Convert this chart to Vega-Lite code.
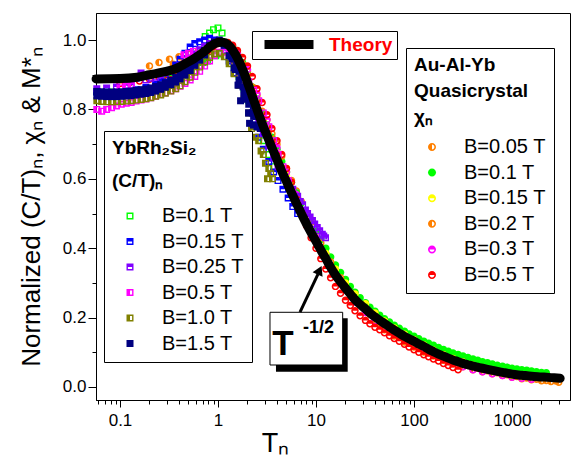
{
"$schema": "https://vega.github.io/schema/vega-lite/v6.json",
"width": 474, "height": 387,
"autosize": {"type": "none"},
"padding": {"left": 96, "top": 13, "right": 1, "bottom": 64},
"background": "white",
"config": {
  "font": "Liberation Sans",
  "view": {"stroke": "black", "strokeWidth": 1},
  "axis": {"grid": false, "domainColor": "black", "tickColor": "black", "labelColor": "black", "titleColor": "black", "labelFont": "Liberation Sans", "titleFont": "Liberation Sans", "labelFontSize": 17, "titleFontWeight": "normal"},
  "legend": {"labelFont": "Liberation Sans", "titleFont": "Liberation Sans"}
},
"datasets": {
"qc": [
{"s":"B=0.05 T","T":0.2,"v":0.925},{"s":"B=0.05 T","T":0.25,"v":0.935},{"s":"B=0.05 T","T":0.32,"v":0.945},{"s":"B=0.05 T","T":0.4,"v":0.952},{"s":"B=0.05 T","T":0.5,"v":0.96},{"s":"B=0.05 T","T":0.63,"v":0.97},{"s":"B=0.05 T","T":0.8,"v":0.983},{"s":"B=0.05 T","T":1.0,"v":0.993},{"s":"B=0.05 T","T":1.26,"v":0.99},{"s":"B=0.05 T","T":1.58,"v":0.96},{"s":"B=0.05 T","T":2.0,"v":0.91},{"s":"B=0.05 T","T":2.5,"v":0.84},{"s":"B=0.05 T","T":3.16,"v":0.77},{"s":"B=0.05 T","T":4.0,"v":0.7},{"s":"B=0.05 T","T":5.0,"v":0.63},{"s":"B=0.05 T","T":6.3,"v":0.565},{"s":"B=0.05 T","T":8.0,"v":0.5},{"s":"B=0.05 T","T":10,"v":0.445},{"s":"B=0.05 T","T":12.6,"v":0.385},{"s":"B=0.05 T","T":15.8,"v":0.335},{"s":"B=0.05 T","T":20,"v":0.29},{"s":"B=0.05 T","T":25,"v":0.25},{"s":"B=0.05 T","T":32,"v":0.215},{"s":"B=0.05 T","T":40,"v":0.187},{"s":"B=0.05 T","T":50,"v":0.165},{"s":"B=0.05 T","T":63,"v":0.147},{"s":"B=0.05 T","T":80,"v":0.13},{"s":"B=0.05 T","T":100,"v":0.115},{"s":"B=0.05 T","T":126,"v":0.101},{"s":"B=0.05 T","T":158,"v":0.089},{"s":"B=0.05 T","T":200,"v":0.077},{"s":"B=0.05 T","T":250,"v":0.067},{"s":"B=0.05 T","T":316,"v":0.058},{"s":"B=0.05 T","T":400,"v":0.05},{"s":"B=0.05 T","T":500,"v":0.044},{"s":"B=0.05 T","T":630,"v":0.038},{"s":"B=0.05 T","T":800,"v":0.033},{"s":"B=0.05 T","T":1000,"v":0.028},{"s":"B=0.05 T","T":1260,"v":0.024},{"s":"B=0.05 T","T":1580,"v":0.021},{"s":"B=0.05 T","T":2000,"v":0.018},{"s":"B=0.05 T","T":2500,"v":0.016},{"s":"B=0.05 T","T":3000,"v":0.014},
{"s":"B=0.1 T","T":0.28,"v":0.9},{"s":"B=0.1 T","T":0.35,"v":0.91},{"s":"B=0.1 T","T":0.45,"v":0.925},{"s":"B=0.1 T","T":0.56,"v":0.94},{"s":"B=0.1 T","T":0.71,"v":0.96},{"s":"B=0.1 T","T":0.89,"v":0.985},{"s":"B=0.1 T","T":1.12,"v":0.995},{"s":"B=0.1 T","T":1.41,"v":0.98},{"s":"B=0.1 T","T":1.78,"v":0.935},{"s":"B=0.1 T","T":2.24,"v":0.865},{"s":"B=0.1 T","T":2.82,"v":0.79},{"s":"B=0.1 T","T":3.55,"v":0.72},{"s":"B=0.1 T","T":4.47,"v":0.65},{"s":"B=0.1 T","T":5.62,"v":0.59},{"s":"B=0.1 T","T":7.08,"v":0.53},{"s":"B=0.1 T","T":8.91,"v":0.475},{"s":"B=0.1 T","T":11.2,"v":0.425},{"s":"B=0.1 T","T":14.1,"v":0.375},{"s":"B=0.1 T","T":17.8,"v":0.33},{"s":"B=0.1 T","T":22.4,"v":0.29},{"s":"B=0.1 T","T":28.2,"v":0.257},{"s":"B=0.1 T","T":35.5,"v":0.23},{"s":"B=0.1 T","T":44.7,"v":0.207},{"s":"B=0.1 T","T":56.2,"v":0.187},{"s":"B=0.1 T","T":70.8,"v":0.169},{"s":"B=0.1 T","T":89.1,"v":0.153},{"s":"B=0.1 T","T":112,"v":0.139},{"s":"B=0.1 T","T":141,"v":0.126},{"s":"B=0.1 T","T":178,"v":0.114},{"s":"B=0.1 T","T":224,"v":0.103},{"s":"B=0.1 T","T":282,"v":0.094},{"s":"B=0.1 T","T":355,"v":0.085},{"s":"B=0.1 T","T":447,"v":0.077},{"s":"B=0.1 T","T":562,"v":0.07},{"s":"B=0.1 T","T":708,"v":0.063},{"s":"B=0.1 T","T":891,"v":0.057},{"s":"B=0.1 T","T":1122,"v":0.052},{"s":"B=0.1 T","T":1413,"v":0.048},{"s":"B=0.1 T","T":1778,"v":0.044},{"s":"B=0.1 T","T":2239,"v":0.041},
{"s":"B=0.1 T","T":0.32,"v":0.905},{"s":"B=0.1 T","T":0.4,"v":0.918},{"s":"B=0.1 T","T":0.5,"v":0.932},{"s":"B=0.1 T","T":0.63,"v":0.95},{"s":"B=0.1 T","T":0.8,"v":0.972},{"s":"B=0.1 T","T":1.0,"v":0.992},{"s":"B=0.1 T","T":1.26,"v":0.99},{"s":"B=0.1 T","T":1.58,"v":0.96},{"s":"B=0.1 T","T":2.0,"v":0.9},{"s":"B=0.1 T","T":2.5,"v":0.83},{"s":"B=0.1 T","T":3.16,"v":0.755},{"s":"B=0.1 T","T":4.0,"v":0.685},{"s":"B=0.1 T","T":5.0,"v":0.62},{"s":"B=0.1 T","T":6.3,"v":0.56},{"s":"B=0.1 T","T":8.0,"v":0.5},{"s":"B=0.1 T","T":10,"v":0.45},{"s":"B=0.1 T","T":12.6,"v":0.4},{"s":"B=0.1 T","T":15.8,"v":0.352},{"s":"B=0.1 T","T":20,"v":0.31},{"s":"B=0.1 T","T":25,"v":0.273},{"s":"B=0.1 T","T":32,"v":0.243},{"s":"B=0.1 T","T":40,"v":0.218},{"s":"B=0.1 T","T":50,"v":0.197},{"s":"B=0.1 T","T":63,"v":0.178},{"s":"B=0.1 T","T":80,"v":0.161},{"s":"B=0.1 T","T":100,"v":0.146},{"s":"B=0.1 T","T":126,"v":0.132},{"s":"B=0.1 T","T":158,"v":0.12},{"s":"B=0.1 T","T":200,"v":0.108},{"s":"B=0.1 T","T":250,"v":0.098},{"s":"B=0.1 T","T":316,"v":0.089},{"s":"B=0.1 T","T":400,"v":0.081},{"s":"B=0.1 T","T":500,"v":0.073},{"s":"B=0.1 T","T":630,"v":0.066},{"s":"B=0.1 T","T":800,"v":0.06},{"s":"B=0.1 T","T":1000,"v":0.054},{"s":"B=0.1 T","T":1260,"v":0.05},{"s":"B=0.1 T","T":1580,"v":0.046},{"s":"B=0.1 T","T":2000,"v":0.042},
{"s":"B=0.15 T","T":0.5,"v":0.945},{"s":"B=0.15 T","T":0.63,"v":0.96},{"s":"B=0.15 T","T":0.8,"v":0.98},{"s":"B=0.15 T","T":1.0,"v":0.99},{"s":"B=0.15 T","T":1.26,"v":0.985},{"s":"B=0.15 T","T":1.58,"v":0.955},{"s":"B=0.15 T","T":2.0,"v":0.895},{"s":"B=0.15 T","T":2.5,"v":0.82},{"s":"B=0.15 T","T":3.16,"v":0.745},{"s":"B=0.15 T","T":4.0,"v":0.675},{"s":"B=0.15 T","T":5.0,"v":0.61},{"s":"B=0.15 T","T":6.3,"v":0.55},{"s":"B=0.15 T","T":8.0,"v":0.49},{"s":"B=0.15 T","T":10,"v":0.435},{"s":"B=0.15 T","T":12.6,"v":0.385},{"s":"B=0.15 T","T":15.8,"v":0.34},{"s":"B=0.15 T","T":20,"v":0.3},{"s":"B=0.15 T","T":25,"v":0.268},{"s":"B=0.15 T","T":32,"v":0.24},{"s":"B=0.15 T","T":40,"v":0.213},{"s":"B=0.15 T","T":50,"v":0.19},{"s":"B=0.15 T","T":63,"v":0.17},{"s":"B=0.15 T","T":80,"v":0.152},{"s":"B=0.15 T","T":100,"v":0.136},{"s":"B=0.15 T","T":126,"v":0.121},{"s":"B=0.15 T","T":158,"v":0.106},{"s":"B=0.15 T","T":200,"v":0.093},{"s":"B=0.15 T","T":250,"v":0.082},{"s":"B=0.15 T","T":316,"v":0.072},{"s":"B=0.15 T","T":400,"v":0.063},{"s":"B=0.15 T","T":500,"v":0.055},{"s":"B=0.15 T","T":630,"v":0.047},{"s":"B=0.15 T","T":800,"v":0.04},{"s":"B=0.15 T","T":1000,"v":0.034},{"s":"B=0.15 T","T":1260,"v":0.028},
{"s":"B=0.2 T","T":0.35,"v":0.93},{"s":"B=0.2 T","T":0.45,"v":0.945},{"s":"B=0.2 T","T":0.56,"v":0.955},{"s":"B=0.2 T","T":0.71,"v":0.97},{"s":"B=0.2 T","T":0.89,"v":0.985},{"s":"B=0.2 T","T":1.12,"v":0.99},{"s":"B=0.2 T","T":1.41,"v":0.97},{"s":"B=0.2 T","T":1.78,"v":0.93},{"s":"B=0.2 T","T":2.24,"v":0.865},{"s":"B=0.2 T","T":2.82,"v":0.795},{"s":"B=0.2 T","T":3.55,"v":0.73},{"s":"B=0.2 T","T":4.47,"v":0.665},{"s":"B=0.2 T","T":5.62,"v":0.595},{"s":"B=0.2 T","T":7.08,"v":0.535},{"s":"B=0.2 T","T":8.91,"v":0.475},{"s":"B=0.2 T","T":11.2,"v":0.415},{"s":"B=0.2 T","T":14.1,"v":0.36},{"s":"B=0.2 T","T":17.8,"v":0.315},{"s":"B=0.2 T","T":22.4,"v":0.272},{"s":"B=0.2 T","T":28.2,"v":0.238},{"s":"B=0.2 T","T":35.5,"v":0.21},{"s":"B=0.2 T","T":44.7,"v":0.185},{"s":"B=0.2 T","T":56.2,"v":0.163},{"s":"B=0.2 T","T":70.8,"v":0.145},{"s":"B=0.2 T","T":89.1,"v":0.129},{"s":"B=0.2 T","T":112,"v":0.115},{"s":"B=0.2 T","T":141,"v":0.102},{"s":"B=0.2 T","T":178,"v":0.09},{"s":"B=0.2 T","T":224,"v":0.08},{"s":"B=0.2 T","T":282,"v":0.071},{"s":"B=0.2 T","T":355,"v":0.062},{"s":"B=0.2 T","T":447,"v":0.054},{"s":"B=0.2 T","T":562,"v":0.047},{"s":"B=0.2 T","T":708,"v":0.041},{"s":"B=0.2 T","T":891,"v":0.035},{"s":"B=0.2 T","T":1122,"v":0.03},{"s":"B=0.2 T","T":1413,"v":0.026},{"s":"B=0.2 T","T":1778,"v":0.022},{"s":"B=0.2 T","T":2239,"v":0.019},{"s":"B=0.2 T","T":2818,"v":0.017},
{"s":"B=0.3 T","T":0.5,"v":0.94},{"s":"B=0.3 T","T":0.63,"v":0.955},{"s":"B=0.3 T","T":0.8,"v":0.975},{"s":"B=0.3 T","T":1.0,"v":0.99},{"s":"B=0.3 T","T":1.26,"v":0.99},{"s":"B=0.3 T","T":1.58,"v":0.965},{"s":"B=0.3 T","T":2.0,"v":0.915},{"s":"B=0.3 T","T":2.5,"v":0.845},{"s":"B=0.3 T","T":3.16,"v":0.77},{"s":"B=0.3 T","T":4.0,"v":0.69},{"s":"B=0.3 T","T":5.0,"v":0.62},{"s":"B=0.3 T","T":6.3,"v":0.555},{"s":"B=0.3 T","T":8.0,"v":0.49},{"s":"B=0.3 T","T":10,"v":0.43},{"s":"B=0.3 T","T":12.6,"v":0.375},{"s":"B=0.3 T","T":15.8,"v":0.325},{"s":"B=0.3 T","T":20,"v":0.28},{"s":"B=0.3 T","T":25,"v":0.245},{"s":"B=0.3 T","T":32,"v":0.215},{"s":"B=0.3 T","T":40,"v":0.19},{"s":"B=0.3 T","T":50,"v":0.172},{"s":"B=0.3 T","T":63,"v":0.16},{"s":"B=0.3 T","T":80,"v":0.146},{"s":"B=0.3 T","T":100,"v":0.131},{"s":"B=0.3 T","T":126,"v":0.114},{"s":"B=0.3 T","T":158,"v":0.098},{"s":"B=0.3 T","T":200,"v":0.083},{"s":"B=0.3 T","T":250,"v":0.069},{"s":"B=0.3 T","T":316,"v":0.058},{"s":"B=0.3 T","T":400,"v":0.05},{"s":"B=0.3 T","T":500,"v":0.044},{"s":"B=0.3 T","T":630,"v":0.038},{"s":"B=0.3 T","T":800,"v":0.033},{"s":"B=0.3 T","T":1000,"v":0.028},{"s":"B=0.3 T","T":1260,"v":0.025},{"s":"B=0.3 T","T":1580,"v":0.022},
{"s":"B=0.5 T","T":0.1,"v":0.875},{"s":"B=0.5 T","T":0.126,"v":0.878},{"s":"B=0.5 T","T":0.158,"v":0.882},{"s":"B=0.5 T","T":0.2,"v":0.887},{"s":"B=0.5 T","T":0.28,"v":0.897},{"s":"B=0.5 T","T":0.35,"v":0.907},{"s":"B=0.5 T","T":0.45,"v":0.92},{"s":"B=0.5 T","T":0.56,"v":0.937},{"s":"B=0.5 T","T":0.71,"v":0.958},{"s":"B=0.5 T","T":0.89,"v":0.98},{"s":"B=0.5 T","T":1.12,"v":0.995},{"s":"B=0.5 T","T":1.41,"v":0.985},{"s":"B=0.5 T","T":1.78,"v":0.95},{"s":"B=0.5 T","T":2.24,"v":0.895},{"s":"B=0.5 T","T":2.82,"v":0.82},{"s":"B=0.5 T","T":3.55,"v":0.745},{"s":"B=0.5 T","T":4.47,"v":0.67},{"s":"B=0.5 T","T":5.62,"v":0.59},{"s":"B=0.5 T","T":7.08,"v":0.505},{"s":"B=0.5 T","T":8.91,"v":0.43},{"s":"B=0.5 T","T":11.2,"v":0.37},{"s":"B=0.5 T","T":14.1,"v":0.315},{"s":"B=0.5 T","T":17.8,"v":0.27},{"s":"B=0.5 T","T":22.4,"v":0.235},{"s":"B=0.5 T","T":28.2,"v":0.205},{"s":"B=0.5 T","T":35.5,"v":0.182},{"s":"B=0.5 T","T":44.7,"v":0.165},{"s":"B=0.5 T","T":56.2,"v":0.148},{"s":"B=0.5 T","T":70.8,"v":0.132},{"s":"B=0.5 T","T":89.1,"v":0.115},{"s":"B=0.5 T","T":112,"v":0.1},{"s":"B=0.5 T","T":141,"v":0.087},{"s":"B=0.5 T","T":178,"v":0.075},{"s":"B=0.5 T","T":224,"v":0.062},{"s":"B=0.5 T","T":282,"v":0.05},
{"s":"B=0.5 T","T":0.25,"v":0.892},{"s":"B=0.5 T","T":0.32,"v":0.902},{"s":"B=0.5 T","T":0.4,"v":0.913},{"s":"B=0.5 T","T":0.5,"v":0.928},{"s":"B=0.5 T","T":0.63,"v":0.947},{"s":"B=0.5 T","T":0.8,"v":0.97},{"s":"B=0.5 T","T":1.0,"v":0.99},{"s":"B=0.5 T","T":1.26,"v":0.993},{"s":"B=0.5 T","T":1.58,"v":0.97},{"s":"B=0.5 T","T":2.0,"v":0.925},{"s":"B=0.5 T","T":2.5,"v":0.86},{"s":"B=0.5 T","T":3.16,"v":0.785},{"s":"B=0.5 T","T":4.0,"v":0.71},{"s":"B=0.5 T","T":5.0,"v":0.63},{"s":"B=0.5 T","T":6.3,"v":0.545},{"s":"B=0.5 T","T":8.0,"v":0.465},{"s":"B=0.5 T","T":10,"v":0.4},{"s":"B=0.5 T","T":12.6,"v":0.34},{"s":"B=0.5 T","T":15.8,"v":0.29},{"s":"B=0.5 T","T":20,"v":0.25},{"s":"B=0.5 T","T":25,"v":0.22},{"s":"B=0.5 T","T":32,"v":0.192},{"s":"B=0.5 T","T":40,"v":0.172},{"s":"B=0.5 T","T":50,"v":0.156},{"s":"B=0.5 T","T":63,"v":0.14},{"s":"B=0.5 T","T":80,"v":0.123},{"s":"B=0.5 T","T":100,"v":0.107},{"s":"B=0.5 T","T":126,"v":0.093},{"s":"B=0.5 T","T":158,"v":0.081},{"s":"B=0.5 T","T":200,"v":0.068},{"s":"B=0.5 T","T":250,"v":0.056}
],
"yb": [
{"s":"B=0.1 T","T":0.058,"v":0.85},{"s":"B=0.1 T","T":0.082,"v":0.85},{"s":"B=0.1 T","T":0.116,"v":0.852},{"s":"B=0.1 T","T":0.164,"v":0.855},{"s":"B=0.1 T","T":0.231,"v":0.865},{"s":"B=0.1 T","T":0.33,"v":0.89},{"s":"B=0.1 T","T":0.46,"v":0.925},{"s":"B=0.1 T","T":0.52,"v":0.935},{"s":"B=0.1 T","T":0.58,"v":0.945},{"s":"B=0.1 T","T":0.65,"v":0.955},{"s":"B=0.1 T","T":0.7,"v":0.935},{"s":"B=0.1 T","T":0.74,"v":1.01},{"s":"B=0.1 T","T":0.78,"v":0.94},{"s":"B=0.1 T","T":0.82,"v":1.02},{"s":"B=0.1 T","T":0.9,"v":1.03},{"s":"B=0.1 T","T":0.95,"v":0.955},{"s":"B=0.1 T","T":1.0,"v":1.035},{"s":"B=0.1 T","T":1.06,"v":0.96},{"s":"B=0.1 T","T":1.1,"v":1.02},{"s":"B=0.1 T","T":1.2,"v":0.97},{"s":"B=0.1 T","T":1.3,"v":0.95},{"s":"B=0.1 T","T":1.46,"v":0.925},{"s":"B=0.1 T","T":1.64,"v":0.895},{"s":"B=0.1 T","T":1.84,"v":0.86},{"s":"B=0.1 T","T":2.06,"v":0.825},{"s":"B=0.1 T","T":2.31,"v":0.79},{"s":"B=0.1 T","T":2.6,"v":0.75},{"s":"B=0.1 T","T":2.9,"v":0.71},{"s":"B=0.1 T","T":3.3,"v":0.67},{"s":"B=0.1 T","T":3.7,"v":0.635},
{"s":"B=0.15 T","T":0.058,"v":0.85},{"s":"B=0.15 T","T":0.073,"v":0.85},{"s":"B=0.15 T","T":0.092,"v":0.85},{"s":"B=0.15 T","T":0.116,"v":0.853},{"s":"B=0.15 T","T":0.146,"v":0.857},{"s":"B=0.15 T","T":0.184,"v":0.863},{"s":"B=0.15 T","T":0.231,"v":0.872},{"s":"B=0.15 T","T":0.26,"v":0.88},{"s":"B=0.15 T","T":0.29,"v":0.895},{"s":"B=0.15 T","T":0.33,"v":0.91},{"s":"B=0.15 T","T":0.37,"v":0.928},{"s":"B=0.15 T","T":0.41,"v":0.945},{"s":"B=0.15 T","T":0.46,"v":0.962},{"s":"B=0.15 T","T":0.52,"v":0.98},{"s":"B=0.15 T","T":0.58,"v":0.99},{"s":"B=0.15 T","T":0.65,"v":0.995},{"s":"B=0.15 T","T":0.73,"v":1.0},{"s":"B=0.15 T","T":0.82,"v":1.005},{"s":"B=0.15 T","T":0.92,"v":1.0},{"s":"B=0.15 T","T":1.03,"v":0.99},{"s":"B=0.15 T","T":1.16,"v":0.97},{"s":"B=0.15 T","T":1.3,"v":0.94},{"s":"B=0.15 T","T":1.46,"v":0.905},{"s":"B=0.15 T","T":1.64,"v":0.87},{"s":"B=0.15 T","T":1.84,"v":0.83},{"s":"B=0.15 T","T":2.06,"v":0.79},{"s":"B=0.15 T","T":2.31,"v":0.755},{"s":"B=0.15 T","T":2.6,"v":0.72},{"s":"B=0.15 T","T":2.9,"v":0.685},{"s":"B=0.15 T","T":3.3,"v":0.65},{"s":"B=0.15 T","T":3.7,"v":0.62},{"s":"B=0.15 T","T":4.1,"v":0.595},{"s":"B=0.15 T","T":4.6,"v":0.57},{"s":"B=0.15 T","T":5.2,"v":0.545},{"s":"B=0.15 T","T":5.8,"v":0.52},{"s":"B=0.15 T","T":6.5,"v":0.5},
{"s":"B=0.25 T","T":0.058,"v":0.86},{"s":"B=0.25 T","T":0.073,"v":0.862},{"s":"B=0.25 T","T":0.092,"v":0.865},{"s":"B=0.25 T","T":0.116,"v":0.868},{"s":"B=0.25 T","T":0.13,"v":0.87},{"s":"B=0.25 T","T":0.146,"v":0.89},{"s":"B=0.25 T","T":0.164,"v":0.905},{"s":"B=0.25 T","T":0.184,"v":0.885},{"s":"B=0.25 T","T":0.206,"v":0.89},{"s":"B=0.25 T","T":0.231,"v":0.893},{"s":"B=0.25 T","T":0.26,"v":0.9},{"s":"B=0.25 T","T":0.29,"v":0.905},{"s":"B=0.25 T","T":0.33,"v":0.91},{"s":"B=0.25 T","T":0.37,"v":0.918},{"s":"B=0.25 T","T":0.41,"v":0.926},{"s":"B=0.25 T","T":0.46,"v":0.936},{"s":"B=0.25 T","T":0.52,"v":0.948},{"s":"B=0.25 T","T":0.58,"v":0.96},{"s":"B=0.25 T","T":0.65,"v":0.972},{"s":"B=0.25 T","T":0.73,"v":0.982},{"s":"B=0.25 T","T":0.82,"v":0.99},{"s":"B=0.25 T","T":0.92,"v":0.995},{"s":"B=0.25 T","T":1.03,"v":0.995},{"s":"B=0.25 T","T":1.16,"v":0.985},{"s":"B=0.25 T","T":1.3,"v":0.965},{"s":"B=0.25 T","T":1.46,"v":0.94},{"s":"B=0.25 T","T":1.64,"v":0.905},{"s":"B=0.25 T","T":1.84,"v":0.87},{"s":"B=0.25 T","T":2.06,"v":0.835},{"s":"B=0.25 T","T":2.31,"v":0.8},{"s":"B=0.25 T","T":2.6,"v":0.765},{"s":"B=0.25 T","T":2.9,"v":0.73},{"s":"B=0.25 T","T":3.3,"v":0.695},{"s":"B=0.25 T","T":3.7,"v":0.66},{"s":"B=0.25 T","T":4.1,"v":0.635},{"s":"B=0.25 T","T":4.6,"v":0.61},{"s":"B=0.25 T","T":5.2,"v":0.59},{"s":"B=0.25 T","T":5.8,"v":0.57},{"s":"B=0.25 T","T":6.5,"v":0.55},{"s":"B=0.25 T","T":7.3,"v":0.525},{"s":"B=0.25 T","T":8.2,"v":0.5},{"s":"B=0.25 T","T":9.2,"v":0.48},{"s":"B=0.25 T","T":10.3,"v":0.46},{"s":"B=0.25 T","T":11.6,"v":0.44},{"s":"B=0.25 T","T":12.5,"v":0.43},{"s":"B=0.25 T","T":6.9,"v":0.535},{"s":"B=0.25 T","T":7.8,"v":0.51},{"s":"B=0.25 T","T":8.7,"v":0.49},{"s":"B=0.25 T","T":9.7,"v":0.47},{"s":"B=0.25 T","T":10.9,"v":0.45},{"s":"B=0.25 T","T":12.0,"v":0.435},
{"s":"B=0.5 T","T":0.058,"v":0.8},{"s":"B=0.5 T","T":0.065,"v":0.795},{"s":"B=0.5 T","T":0.073,"v":0.8},{"s":"B=0.5 T","T":0.082,"v":0.805},{"s":"B=0.5 T","T":0.092,"v":0.81},{"s":"B=0.5 T","T":0.1,"v":0.862},{"s":"B=0.5 T","T":0.103,"v":0.815},{"s":"B=0.5 T","T":0.115,"v":0.866},{"s":"B=0.5 T","T":0.13,"v":0.868},{"s":"B=0.5 T","T":0.116,"v":0.818},{"s":"B=0.5 T","T":0.13,"v":0.82},{"s":"B=0.5 T","T":0.146,"v":0.824},{"s":"B=0.5 T","T":0.164,"v":0.827},{"s":"B=0.5 T","T":0.184,"v":0.83},{"s":"B=0.5 T","T":0.206,"v":0.834},{"s":"B=0.5 T","T":0.231,"v":0.838},{"s":"B=0.5 T","T":0.26,"v":0.843},{"s":"B=0.5 T","T":0.29,"v":0.848},{"s":"B=0.5 T","T":0.33,"v":0.854},{"s":"B=0.5 T","T":0.37,"v":0.86},{"s":"B=0.5 T","T":0.41,"v":0.867},{"s":"B=0.5 T","T":0.45,"v":0.958},{"s":"B=0.5 T","T":0.5,"v":0.962},{"s":"B=0.5 T","T":0.56,"v":0.968},{"s":"B=0.5 T","T":0.46,"v":0.875},{"s":"B=0.5 T","T":0.52,"v":0.885},{"s":"B=0.5 T","T":0.58,"v":0.895},{"s":"B=0.5 T","T":0.65,"v":0.91},{"s":"B=0.5 T","T":0.73,"v":0.925},{"s":"B=0.5 T","T":0.82,"v":0.94},{"s":"B=0.5 T","T":0.92,"v":0.955},{"s":"B=0.5 T","T":1.03,"v":0.965},{"s":"B=0.5 T","T":1.16,"v":0.965},{"s":"B=0.5 T","T":1.3,"v":0.96},{"s":"B=0.5 T","T":1.46,"v":0.945},{"s":"B=0.5 T","T":1.64,"v":0.925},{"s":"B=0.5 T","T":1.84,"v":0.905},{"s":"B=0.5 T","T":2.06,"v":0.88},{"s":"B=0.5 T","T":2.31,"v":0.855},{"s":"B=0.5 T","T":2.6,"v":0.825},{"s":"B=0.5 T","T":2.9,"v":0.79},{"s":"B=0.5 T","T":3.3,"v":0.75},{"s":"B=0.5 T","T":3.7,"v":0.71},{"s":"B=0.5 T","T":4.1,"v":0.67},{"s":"B=0.5 T","T":4.6,"v":0.635},{"s":"B=0.5 T","T":5.2,"v":0.595},{"s":"B=0.5 T","T":5.8,"v":0.56},{"s":"B=0.5 T","T":6.5,"v":0.525},{"s":"B=0.5 T","T":7.3,"v":0.495},{"s":"B=0.5 T","T":8.2,"v":0.465},
{"s":"B=1.0 T","T":0.058,"v":0.825},{"s":"B=1.0 T","T":0.065,"v":0.823},{"s":"B=1.0 T","T":0.073,"v":0.822},{"s":"B=1.0 T","T":0.082,"v":0.822},{"s":"B=1.0 T","T":0.092,"v":0.822},{"s":"B=1.0 T","T":0.103,"v":0.823},{"s":"B=1.0 T","T":0.116,"v":0.824},{"s":"B=1.0 T","T":0.13,"v":0.825},{"s":"B=1.0 T","T":0.146,"v":0.827},{"s":"B=1.0 T","T":0.164,"v":0.829},{"s":"B=1.0 T","T":0.184,"v":0.831},{"s":"B=1.0 T","T":0.206,"v":0.834},{"s":"B=1.0 T","T":0.231,"v":0.838},{"s":"B=1.0 T","T":0.26,"v":0.842},{"s":"B=1.0 T","T":0.29,"v":0.847},{"s":"B=1.0 T","T":0.33,"v":0.853},{"s":"B=1.0 T","T":0.37,"v":0.86},{"s":"B=1.0 T","T":0.41,"v":0.868},{"s":"B=1.0 T","T":0.46,"v":0.88},{"s":"B=1.0 T","T":0.52,"v":0.893},{"s":"B=1.0 T","T":0.58,"v":0.907},{"s":"B=1.0 T","T":0.65,"v":0.922},{"s":"B=1.0 T","T":0.73,"v":0.937},{"s":"B=1.0 T","T":0.82,"v":0.95},{"s":"B=1.0 T","T":0.92,"v":0.96},{"s":"B=1.0 T","T":1.03,"v":0.962},{"s":"B=1.0 T","T":1.16,"v":0.952},{"s":"B=1.0 T","T":1.3,"v":0.932},{"s":"B=1.0 T","T":1.46,"v":0.903},{"s":"B=1.0 T","T":1.64,"v":0.87},{"s":"B=1.0 T","T":1.84,"v":0.83},{"s":"B=1.0 T","T":2.06,"v":0.79},{"s":"B=1.0 T","T":2.31,"v":0.75},{"s":"B=1.0 T","T":2.6,"v":0.71},{"s":"B=1.0 T","T":2.9,"v":0.67},{"s":"B=1.0 T","T":3.3,"v":0.63},{"s":"B=1.0 T","T":3.6,"v":0.6},{"s":"B=1.0 T","T":2.2,"v":0.745},{"s":"B=1.0 T","T":2.4,"v":0.72},{"s":"B=1.0 T","T":2.75,"v":0.68},{"s":"B=1.0 T","T":3.05,"v":0.645},{"s":"B=1.0 T","T":3.45,"v":0.615},{"s":"B=1.0 T","T":3.2,"v":0.6},
{"s":"B=1.5 T","T":0.058,"v":0.852},{"s":"B=1.5 T","T":0.065,"v":0.851},{"s":"B=1.5 T","T":0.073,"v":0.85},{"s":"B=1.5 T","T":0.082,"v":0.85},{"s":"B=1.5 T","T":0.092,"v":0.85},{"s":"B=1.5 T","T":0.103,"v":0.851},{"s":"B=1.5 T","T":0.116,"v":0.852},{"s":"B=1.5 T","T":0.13,"v":0.853},{"s":"B=1.5 T","T":0.146,"v":0.855},{"s":"B=1.5 T","T":0.164,"v":0.857},{"s":"B=1.5 T","T":0.184,"v":0.859},{"s":"B=1.5 T","T":0.206,"v":0.862},{"s":"B=1.5 T","T":0.231,"v":0.866},{"s":"B=1.5 T","T":0.26,"v":0.871},{"s":"B=1.5 T","T":0.29,"v":0.877},{"s":"B=1.5 T","T":0.33,"v":0.884},{"s":"B=1.5 T","T":0.37,"v":0.892},{"s":"B=1.5 T","T":0.41,"v":0.901},{"s":"B=1.5 T","T":0.46,"v":0.912},{"s":"B=1.5 T","T":0.52,"v":0.925},{"s":"B=1.5 T","T":0.58,"v":0.94},{"s":"B=1.5 T","T":0.65,"v":0.955},{"s":"B=1.5 T","T":0.73,"v":0.97},
{"s":"B=1.5 T","T":0.058,"v":0.839},{"s":"B=1.5 T","T":0.065,"v":0.838},{"s":"B=1.5 T","T":0.073,"v":0.837},{"s":"B=1.5 T","T":0.082,"v":0.837},{"s":"B=1.5 T","T":0.092,"v":0.837},{"s":"B=1.5 T","T":0.103,"v":0.838},{"s":"B=1.5 T","T":0.116,"v":0.839},{"s":"B=1.5 T","T":0.13,"v":0.84},{"s":"B=1.5 T","T":0.146,"v":0.842},{"s":"B=1.5 T","T":0.164,"v":0.844},{"s":"B=1.5 T","T":0.184,"v":0.846},{"s":"B=1.5 T","T":0.206,"v":0.849},{"s":"B=1.5 T","T":0.231,"v":0.853},{"s":"B=1.5 T","T":0.26,"v":0.858},{"s":"B=1.5 T","T":0.29,"v":0.864},{"s":"B=1.5 T","T":0.33,"v":0.871},{"s":"B=1.5 T","T":0.37,"v":0.879},{"s":"B=1.5 T","T":0.41,"v":0.888},{"s":"B=1.5 T","T":0.46,"v":0.899},{"s":"B=1.5 T","T":0.52,"v":0.912},{"s":"B=1.5 T","T":0.58,"v":0.927},{"s":"B=1.5 T","T":0.65,"v":0.942},{"s":"B=1.5 T","T":0.73,"v":0.957},
{"s":"B=1.5 T","T":0.82,"v":0.985},{"s":"B=1.5 T","T":0.92,"v":0.995},{"s":"B=1.5 T","T":1.03,"v":1.0},{"s":"B=1.5 T","T":1.16,"v":0.985},{"s":"B=1.5 T","T":1.3,"v":0.955},{"s":"B=1.5 T","T":1.46,"v":0.92},{"s":"B=1.5 T","T":1.64,"v":0.885},{"s":"B=1.5 T","T":1.84,"v":0.85},{"s":"B=1.5 T","T":2.06,"v":0.815},{"s":"B=1.5 T","T":2.31,"v":0.78},{"s":"B=1.5 T","T":2.6,"v":0.75},{"s":"B=1.5 T","T":1.55,"v":0.93},{"s":"B=1.5 T","T":1.75,"v":0.9},{"s":"B=1.5 T","T":1.95,"v":0.86},{"s":"B=1.5 T","T":2.2,"v":0.82},{"s":"B=1.5 T","T":2.45,"v":0.785},{"s":"B=1.5 T","T":2.75,"v":0.755},
{"s":"B=1.5 T","T":1.4,"v":0.945},{"s":"B=1.5 T","T":1.5,"v":0.915},{"s":"B=1.5 T","T":1.65,"v":0.91},{"s":"B=1.5 T","T":1.8,"v":0.9},{"s":"B=1.5 T","T":1.6,"v":0.87},{"s":"B=1.5 T","T":1.8,"v":0.865},{"s":"B=1.5 T","T":1.95,"v":0.87},{"s":"B=1.5 T","T":1.7,"v":0.825},{"s":"B=1.5 T","T":1.85,"v":0.84},{"s":"B=1.5 T","T":2.0,"v":0.83},{"s":"B=1.5 T","T":2.15,"v":0.82},{"s":"B=1.5 T","T":2.3,"v":0.81},{"s":"B=1.5 T","T":2.05,"v":0.79},{"s":"B=1.5 T","T":2.25,"v":0.79},{"s":"B=1.5 T","T":2.45,"v":0.78},{"s":"B=1.5 T","T":2.1,"v":0.76},{"s":"B=1.5 T","T":2.3,"v":0.755},{"s":"B=1.5 T","T":2.5,"v":0.75},{"s":"B=1.5 T","T":2.7,"v":0.745}
],
"th": [
{"T":0.057,"v":0.888},{"T":0.1,"v":0.889},{"T":0.15,"v":0.893},{"T":0.2,"v":0.9},{"T":0.28,"v":0.908},{"T":0.35,"v":0.915},{"T":0.4,"v":0.922},{"T":0.45,"v":0.93},{"T":0.5,"v":0.937},{"T":0.56,"v":0.945},{"T":0.63,"v":0.955},{"T":0.71,"v":0.965},{"T":0.8,"v":0.977},{"T":0.89,"v":0.987},{"T":1.0,"v":0.993},{"T":1.12,"v":0.994},{"T":1.26,"v":0.987},{"T":1.41,"v":0.971},{"T":1.58,"v":0.948},{"T":1.78,"v":0.916},{"T":2.0,"v":0.878},{"T":2.24,"v":0.838},{"T":2.5,"v":0.8},{"T":2.82,"v":0.76},{"T":3.16,"v":0.725},{"T":3.55,"v":0.69},{"T":4.0,"v":0.655},{"T":4.47,"v":0.622},{"T":5.0,"v":0.592},{"T":5.62,"v":0.56},{"T":6.3,"v":0.53},{"T":7.08,"v":0.5},{"T":8.0,"v":0.47},{"T":8.91,"v":0.445},{"T":10,"v":0.42},{"T":11.2,"v":0.395},{"T":12.6,"v":0.37},{"T":14.1,"v":0.345},{"T":15.8,"v":0.323},{"T":17.8,"v":0.303},{"T":20,"v":0.285},{"T":22.4,"v":0.268},{"T":25,"v":0.252},{"T":28.2,"v":0.238},{"T":32,"v":0.225},{"T":35.5,"v":0.213},{"T":40,"v":0.202},{"T":44.7,"v":0.192},{"T":50,"v":0.183},{"T":56.2,"v":0.173},{"T":63,"v":0.164},{"T":70.8,"v":0.155},{"T":80,"v":0.146},{"T":89.1,"v":0.139},{"T":100,"v":0.132},{"T":112,"v":0.124},{"T":126,"v":0.117},{"T":141,"v":0.109},{"T":158,"v":0.102},{"T":178,"v":0.095},{"T":200,"v":0.089},{"T":224,"v":0.083},{"T":250,"v":0.078},{"T":282,"v":0.073},{"T":316,"v":0.068},{"T":355,"v":0.064},{"T":400,"v":0.06},{"T":447,"v":0.057},{"T":500,"v":0.054},{"T":562,"v":0.051},{"T":630,"v":0.048},{"T":708,"v":0.045},{"T":800,"v":0.042},{"T":891,"v":0.04},{"T":1000,"v":0.037},{"T":1260,"v":0.034},{"T":1580,"v":0.031},{"T":2000,"v":0.029},{"T":2500,"v":0.027},{"T":3100,"v":0.025}
]
},
"encoding": {
  "x": {"field": "T", "type": "quantitative",
    "scale": {"type": "log", "domain": [0.0569, 3908], "nice": false},
    "axis": {"title": "Tₙ", "titleFontSize": 27, "titleX": 179, "titleAlign": "center", "titlePadding": 2,
      "values": [0.06,0.07,0.08,0.09,0.1,0.2,0.3,0.4,0.5,0.6,0.7,0.8,0.9,1,2,3,4,5,6,7,8,9,10,20,30,40,50,60,70,80,90,100,200,300,400,500,600,700,800,900,1000,2000,3000],
      "format": "~g", "labelOverlap": false,
      "labelExpr": "indexof([0.1,1,10,100,1000], datum.value) >= 0 ? datum.label : ''",
      "tickSize": {"condition": {"test": "indexof([0.1,1,10,100,1000], datum.value) >= 0", "value": 7}, "value": 4},
      "labelPadding": 5}},
  "y": {"field": "v", "type": "quantitative",
    "scale": {"domain": [-0.0375, 1.078], "nice": false, "zero": false},
    "axis": {"title": "Normalized (C/T)ₙ, χₙ & M*ₙ", "titleFontSize": 26, "titlePadding": 18,
      "values": [0,0.1,0.2,0.3,0.4,0.5,0.6,0.7,0.8,0.9,1.0],
      "labelOverlap": false,
      "labelExpr": "round(datum.value*10) % 2 == 0 ? format(datum.value, '.1f') : ''",
      "tickSize": {"condition": {"test": "round(datum.value*10) % 2 == 0", "value": 8}, "value": 4},
      "labelPadding": 2}}
},
"layer": [
  {"data": {"name": "qc"},
   "mark": {"type": "point", "filled": true, "size": 56, "opacity": 1, "strokeWidth": 0},
   "encoding": {
     "color": {"field": "s", "type": "nominal",
       "scale": {"domain": ["B=0.05 T","B=0.1 T","B=0.15 T","B=0.2 T","B=0.3 T","B=0.5 T"], "range": ["#FF8000","#00FF00","#FFFF00","#FF8000","#FF00FF","#FF0000"]},
       "legend": {"title": ["Au-Al-Yb","Quasicrystal","χₙ"], "orient": "none", "legendX": 310, "legendY": 35, "strokeColor": "black", "fillColor": "white", "padding": 8, "titleFontSize": 19, "titleFontWeight": "bold", "titleLineHeight": 26, "titlePadding": 10, "labelFontSize": 20, "symbolSize": 64, "symbolStrokeWidth": 0, "clipHeight": 20, "rowPadding": 5.6, "symbolOffset": 8, "labelOffset": 22}},
     "shape": {"field": "s", "type": "nominal",
       "scale": {"domain": ["B=0.05 T","B=0.1 T","B=0.15 T","B=0.2 T","B=0.3 T","B=0.5 T"],
         "range": ["M-1,0A1,1 0 1,1 1,0A1,1 0 1,1 -1,0Z M0,-0.6L0,0.6A0.6,0.6 0 0,0 0,-0.6Z",
                   "M-1,0A1,1 0 1,1 1,0A1,1 0 1,1 -1,0Z",
                   "M-1,0A1,1 0 1,1 1,0A1,1 0 1,1 -1,0Z M-0.6,0A0.6,0.6 0 0,0 0.6,0Z",
                   "M-1,0A1,1 0 1,1 1,0A1,1 0 1,1 -1,0Z M0,-0.6L0,0.6A0.6,0.6 0 0,0 0,-0.6Z",
                   "M-1,0A1,1 0 1,1 1,0A1,1 0 1,1 -1,0Z M-0.6,0A0.6,0.6 0 0,0 0.6,0Z",
                   "M-1,0A1,1 0 1,1 1,0A1,1 0 1,1 -1,0Z M-0.6,0A0.6,0.6 0 0,0 0.6,0Z"]},
       "legend": {"title": ["Au-Al-Yb","Quasicrystal","χₙ"], "orient": "none", "legendX": 310, "legendY": 35, "strokeColor": "black", "fillColor": "white", "padding": 8, "titleFontSize": 19, "titleFontWeight": "bold", "titleLineHeight": 26, "titlePadding": 10, "labelFontSize": 20, "symbolSize": 64, "symbolStrokeWidth": 0, "clipHeight": 20, "rowPadding": 5.6, "symbolOffset": 8, "labelOffset": 22}}
   }},
  {"data": {"name": "yb"},
   "mark": {"type": "point", "filled": true, "size": 49, "opacity": 1, "strokeWidth": 0},
   "encoding": {
     "color": {"field": "s", "type": "nominal",
       "scale": {"domain": ["B=0.1 T","B=0.15 T","B=0.25 T","B=0.5 T","B=1.0 T","B=1.5 T"], "range": ["#00FF00","#0000FF","#8000FF","#FF00FF","#808000","#000080"]},
       "legend": {"title": ["YbRh₂Si₂","(C/T)ₙ"], "orient": "none", "legendX": 8, "legendY": 118, "strokeColor": "black", "fillColor": "white", "padding": 8, "titleFontSize": 19, "titleFontWeight": "bold", "titleLineHeight": 33, "titlePadding": 15, "labelFontSize": 20, "symbolSize": 49, "symbolStrokeWidth": 0, "clipHeight": 20, "rowPadding": 5.5, "symbolOffset": 8, "labelOffset": 22}},
     "shape": {"field": "s", "type": "nominal",
       "scale": {"domain": ["B=0.1 T","B=0.15 T","B=0.25 T","B=0.5 T","B=1.0 T","B=1.5 T"],
         "range": ["M-1,-1H1V1H-1Z M-0.6,-0.6V0.6H0.6V-0.6Z",
                   "M-1,-1H1V1H-1Z M-0.6,0V0.6H0.6V0Z",
                   "M-1,-1H1V1H-1Z M-0.6,0V0.6H0.6V0Z",
                   "M-1,-1H1V1H-1Z M0,-0.6V0.6H0.6V-0.6Z",
                   "M-1,-1H1V1H-1Z M0,-0.6V0.6H0.6V-0.6Z",
                   "M-1,-1H1V1H-1Z"]},
       "legend": {"title": ["YbRh₂Si₂","(C/T)ₙ"], "orient": "none", "legendX": 8, "legendY": 118, "strokeColor": "black", "fillColor": "white", "padding": 8, "titleFontSize": 19, "titleFontWeight": "bold", "titleLineHeight": 33, "titlePadding": 15, "labelFontSize": 20, "symbolSize": 49, "symbolStrokeWidth": 0, "clipHeight": 20, "rowPadding": 5.5, "symbolOffset": 8, "labelOffset": 22}}
   }},
  {"data": {"name": "th"},
   "mark": {"type": "line", "strokeWidth": 9, "strokeCap": "round", "strokeJoin": "round", "interpolate": "monotone"},
   "encoding": {
     "color": {"datum": "Theory", "type": "nominal", "scale": {"range": ["black"]},
       "legend": {"title": null, "orient": "none", "legendX": 156, "legendY": 18, "strokeColor": "black", "fillColor": "white", "padding": 4, "clipHeight": 19, "symbolType": "stroke", "symbolSize": 2400, "symbolStrokeWidth": 9, "symbolOffset": 4, "labelOffset": 11, "labelFontSize": 19, "labelFontWeight": "bold", "labelColor": "#FF0000"}}
   }},
  {"data": {"values": [{"T": 3.905, "T2": 21.06, "v": 0.198, "v2": 0.0441}]},
   "mark": {"type": "rect", "color": "black"},
   "encoding": {"x2": {"field": "T2"}, "y2": {"field": "v2"}}},
  {"data": {"values": [{"T": 3.393, "T2": 18.72, "v": 0.2153, "v2": 0.0634}]},
   "mark": {"type": "rect", "fill": "white", "stroke": "black", "strokeWidth": 1},
   "encoding": {"x2": {"field": "T2"}, "y2": {"field": "v2"}}},
  {"data": {"values": [{"T": 4.6, "v": 0.0922, "label": "T"}]},
   "mark": {"type": "text", "fontSize": 35, "fontWeight": "bold", "align": "center", "baseline": "alphabetic", "color": "black"},
   "encoding": {"text": {"field": "label"}}},
  {"data": {"values": [{"T": 7.37, "v": 0.1556, "label": "-1/2"}]},
   "mark": {"type": "text", "fontSize": 18, "fontWeight": "bold", "align": "left", "baseline": "alphabetic", "color": "black"},
   "encoding": {"text": {"field": "label"}}},
  {"data": {"values": [{"T": 6.87, "v": 0.216, "T2": 10.48, "v2": 0.3256}]},
   "mark": {"type": "rule", "color": "black", "strokeWidth": 3},
   "encoding": {"x2": {"field": "T2"}, "y2": {"field": "v2"}}},
  {"data": {"values": [{"T": 10.88, "v": 0.3366}]},
   "mark": {"type": "point", "shape": "triangle-up", "angle": 25, "size": 120, "filled": true, "color": "black", "opacity": 1}}
],
"resolve": {"scale": {"color": "independent", "shape": "independent"}, "legend": {"color": "independent", "shape": "independent"}}
}
